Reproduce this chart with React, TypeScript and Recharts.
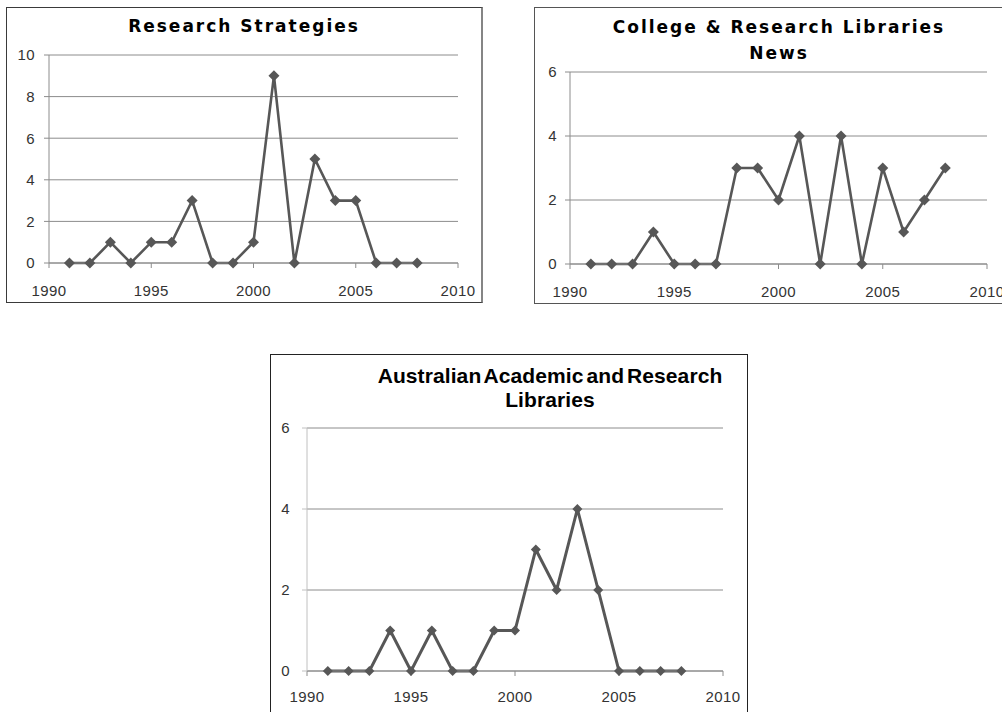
import { CartesianGrid, Line, LineChart, XAxis, YAxis } from "recharts";

const years = [1991, 1992, 1993, 1994, 1995, 1996, 1997, 1998, 1999, 2000, 2001, 2002, 2003, 2004, 2005, 2006, 2007, 2008];
const researchStrategies = [0, 0, 1, 0, 1, 1, 3, 0, 0, 1, 9, 0, 5, 3, 3, 0, 0, 0];
const crlNews = [0, 0, 0, 1, 0, 0, 0, 3, 3, 2, 4, 0, 4, 0, 3, 1, 2, 3];
const aarl = [0, 0, 0, 1, 0, 1, 0, 0, 1, 1, 3, 2, 4, 2, 0, 0, 0, 0];

const xTicks = [1990, 1995, 2000, 2005, 2010];
const yTicksTen = [0, 2, 4, 6, 8, 10];
const yTicksSix = [0, 2, 4, 6];

const LINE = "#575757";
const tickFont = { fill: "#333", fontSize: 15, letterSpacing: 0.4, fontFamily: "Liberation Sans, Arial, sans-serif" };

function toRows(values: number[]) {
  return years.map((year, i) => ({ year, value: values[i] }));
}

function Diamond(props: any) {
  const { cx, cy, size } = props;
  if (cx == null || cy == null) return null;
  const s = size;
  return (
    <path
      d={`M${cx},${cy - s} L${cx + s},${cy} L${cx},${cy + s} L${cx - s},${cy} Z`}
      fill={LINE}
      stroke="none"
    />
  );
}

interface PanelProps {
  box: { left: number; top: number; width: number; height: number };
  border: React.CSSProperties;
  margin: { top: number; right: number; left: number; bottom: number };
  values: number[];
  yMax: number;
  yTicks: number[];
  yAxisColor: string;
  strokeWidth: number;
  dotSize: number;
  xTickMargin: number;
  yTickMargin: number;
}

function Panel({ box, border, margin, values, yMax, yTicks, yAxisColor, strokeWidth, dotSize, xTickMargin, yTickMargin }: PanelProps) {
  return (
    <div
      style={{
        position: "absolute",
        left: box.left,
        top: box.top,
        width: box.width,
        height: box.height,
        boxSizing: "border-box",
        ...border
      }}
    >
      <LineChart width={box.width - 2} height={box.height - 2} data={toRows(values)} margin={margin}>
        <CartesianGrid stroke="#8c8c8c" vertical={false} />
        <XAxis
          dataKey="year"
          type="number"
          domain={[1990, 2010]}
          ticks={xTicks}
          height={30}
          axisLine={{ stroke: "#8c8c8c" }}
          tickLine={{ stroke: "#8c8c8c" }}
          tickSize={5}
          tickMargin={xTickMargin}
          tick={tickFont}
          interval={0}
        />
        <YAxis
          type="number"
          domain={[0, yMax]}
          ticks={yTicks}
          width={30}
          axisLine={{ stroke: yAxisColor }}
          tickLine={{ stroke: yAxisColor }}
          tickSize={5}
          tickMargin={yTickMargin}
          tick={tickFont}
          interval={0}
        />
        <Line
          dataKey="value"
          type="linear"
          stroke={LINE}
          strokeWidth={strokeWidth}
          dot={(p: any) => <Diamond key={p.index} {...p} size={dotSize} />}
          activeDot={false}
          isAnimationActive={false}
        />
      </LineChart>
    </div>
  );
}

const wideTitle: React.CSSProperties = {
  position: "absolute",
  width: 440,
  textAlign: "center",
  fontFamily: "DejaVu Sans, sans-serif",
  fontWeight: 700,
  fontSize: 17,
  letterSpacing: 2,
  lineHeight: "26px",
  color: "#000"
};

export default function App() {
  return (
    <div
      style={{
        position: "fixed",
        left: 0,
        top: 0,
        width: 1002,
        height: 712,
        overflow: "hidden",
        background: "#fff"
      }}
    >
      <Panel
        box={{ left: 6, top: 7, width: 477, height: 296 }}
        border={{ border: "1px solid #3a3a3a", borderRight: "2px solid #858585" }}
        margin={{ top: 47, right: 24, left: 12, bottom: 9 }}
        values={researchStrategies}
        yMax={10}
        yTicks={yTicksTen}
        yAxisColor="#8c8c8c"
        strokeWidth={2.6}
        dotSize={5.5}
        xTickMargin={17}
        yTickMargin={9}
      />
      <div style={{ ...wideTitle, left: 244 - 220, top: 13 }}>Research Strategies</div>

      <Panel
        box={{ left: 534, top: 7, width: 480, height: 297 }}
        border={{ border: "1px solid #555" }}
        margin={{ top: 64, right: 26, left: 5, bottom: 9 }}
        values={crlNews}
        yMax={6}
        yTicks={yTicksSix}
        yAxisColor="#8c8c8c"
        strokeWidth={2.6}
        dotSize={5.5}
        xTickMargin={17}
        yTickMargin={8}
      />
      <div style={{ ...wideTitle, left: 779 - 220, top: 14 }}>
        College &amp; Research Libraries
        <br />
        News
      </div>

      <Panel
        box={{ left: 270, top: 354, width: 478, height: 400 }}
        border={{ border: "1px solid #222" }}
        margin={{ top: 73, right: 24, left: 6, bottom: 52 }}
        values={aarl}
        yMax={6}
        yTicks={yTicksSix}
        yAxisColor="#c0c0c0"
        strokeWidth={3}
        dotSize={5}
        xTickMargin={15}
        yTickMargin={12}
      />
      <div
        style={{
          position: "absolute",
          left: 550 - 220,
          top: 364,
          width: 440,
          textAlign: "center",
          fontFamily: "Liberation Sans, Arial, sans-serif",
          fontWeight: 700,
          fontSize: 21,
          letterSpacing: 0.1,
          wordSpacing: -3,
          lineHeight: "24px",
          color: "#000"
        }}
      >
        Australian Academic and Research
        <br />
        Libraries
      </div>
    </div>
  );
}
